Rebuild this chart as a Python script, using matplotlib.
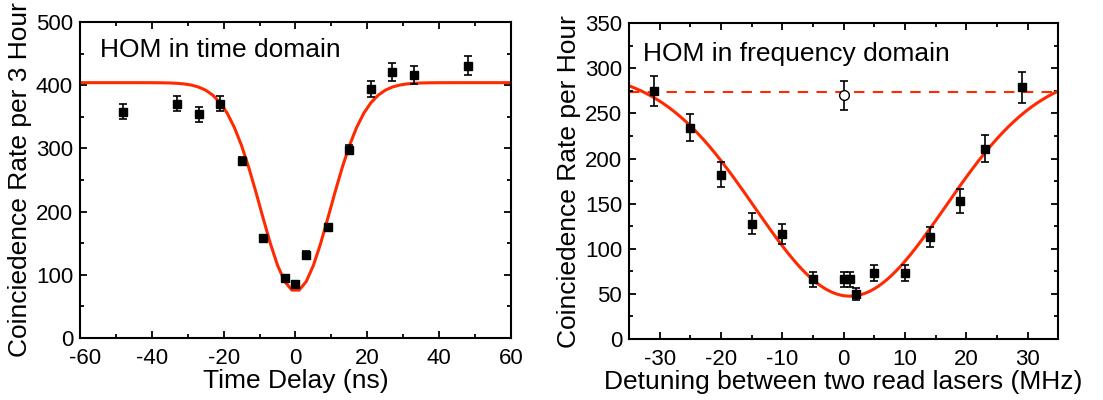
import matplotlib.pyplot as plt
import matplotlib.transforms as mtransforms
import numpy as np

plt.rcParams['font.family'] = ['Liberation Sans', 'DejaVu Sans']
plt.rcParams['axes.unicode_minus'] = False

# time-domain HOM data
t_delay = [-48, -33, -27, -21, -15, -9, -3, 0, 3, 9, 15, 21, 27, 33, 48]
t_rate = [358, 371, 354, 371, 280, 158, 95, 85, 132, 175, 298, 394, 421, 416, 431]
t_err = [12, 12, 12, 12, 7, 5, 4, 4, 5, 5, 7, 13, 14, 14, 15]
# gaussian fit: baseline, depth, centre, sigma
t_fit = dict(base=404, depth=330, x0=0.0, sigma=9.7)

# frequency-domain HOM data
f_det = [-31, -25, -20, -15, -10, -5, 0, 1, 2, 5, 10, 14, 19, 23, 29]
f_rate = [275, 234, 182, 128, 116, 66, 66, 66, 50, 73, 73, 113, 153, 211, 279]
f_err = [17, 15, 14, 11.5, 11, 8.5, 8.5, 8.5, 7, 9, 9, 11, 13, 15, 17]
f_open_det = [0]
f_open_rate = [270]
f_open_err = [16]
f_level = 274
f_fit = dict(base=297.5, depth=250, x0=1.0, sigma=15.5)

red = '#ff2a00'


def gauss_dip(x, base, depth, x0, sigma):
    return base - depth * np.exp(-(x - x0) ** 2 / (2 * sigma ** 2))


def style(ax):
    ax.tick_params(direction='in', which='both', top=True, right=True,
                   labelsize=16, width=1.3, pad=5)
    ax.tick_params(which='major', length=5)
    ax.tick_params(which='minor', length=3)
    ax.tick_params(axis='x', pad=7)
    for s in ax.spines.values():
        s.set_linewidth(1.5)


fig = plt.figure(figsize=(11.03, 4.0), dpi=100)
ax1 = fig.add_axes([0.0725, 0.155, 0.3908, 0.79])
ax2 = fig.add_axes([0.5703, 0.1525, 0.3892, 0.7893])

# left panel
xs = np.arange(-61, 62, 2)
ax1.plot(xs, gauss_dip(xs, **t_fit), color=red, lw=2.2, zorder=2)
ax1.errorbar(t_delay, t_rate, yerr=t_err, fmt='s', color='black', ms=5.5,
             ecolor='black', elinewidth=1.2, capsize=3, capthick=1.2, zorder=3)
ax1.set_xlim(-60, 60)
ax1.set_ylim(0, 500)
ax1.set_xticks(np.arange(-60, 61, 20))
ax1.set_xticks(np.arange(-60, 61, 10), minor=True)
ax1.set_yticks(np.arange(0, 501, 100))
ax1.set_yticks(np.arange(0, 501, 50), minor=True)
ax1.set_xlabel('Time Delay (ns)', fontsize=19, labelpad=0)
ax1.set_ylabel('Coinciedence Rate per 3 Hour', fontsize=19, labelpad=3)
ax1.text(-54.5, 456, 'HOM in time domain', fontsize=19, va='center')
style(ax1)

# right panel
xf = np.linspace(-35, 35, 300)
ax2.axhline(f_level, color=red, lw=1.5, ls=(0, (5, 4)), zorder=1)
ax2.plot(xf, gauss_dip(xf, **f_fit), color=red, lw=2.2, zorder=2)
ax2.errorbar(f_det, f_rate, yerr=f_err, fmt='s', color='black', ms=5.5,
             ecolor='black', elinewidth=1.2, capsize=3, capthick=1.2, zorder=3)
ax2.errorbar(f_open_det, f_open_rate, yerr=f_open_err, fmt='o', mfc='white',
             mec='black', ms=7, ecolor='black', elinewidth=1.2, capsize=3,
             capthick=1.2, zorder=3)
ax2.set_xlim(-35, 35)
ax2.set_ylim(0, 350)
ax2.set_xticks(np.arange(-30, 31, 10))
ax2.set_xticks(np.arange(-35, 36, 5), minor=True)
ax2.set_yticks(np.arange(0, 351, 50))
ax2.set_yticks(np.arange(0, 351, 25), minor=True)
ax2.set_xlabel('Detuning between two read lasers (MHz)', fontsize=19, labelpad=0)
ax2.set_ylabel('Coinciedence Rate per Hour', fontsize=19, labelpad=3)
ax2.text(-32.7, 316, 'HOM in frequency domain', fontsize=19, va='center')
style(ax2)

# nudge the "-60" label a little right so it clears the "0" y label
fig.canvas.draw()
lab = ax1.xaxis.get_major_ticks()[0].label1
lab.set_transform(lab.get_transform() +
                  mtransforms.ScaledTranslation(4 / 72, 0, fig.dpi_scale_trans))

fig.savefig('out.png', dpi=100)
